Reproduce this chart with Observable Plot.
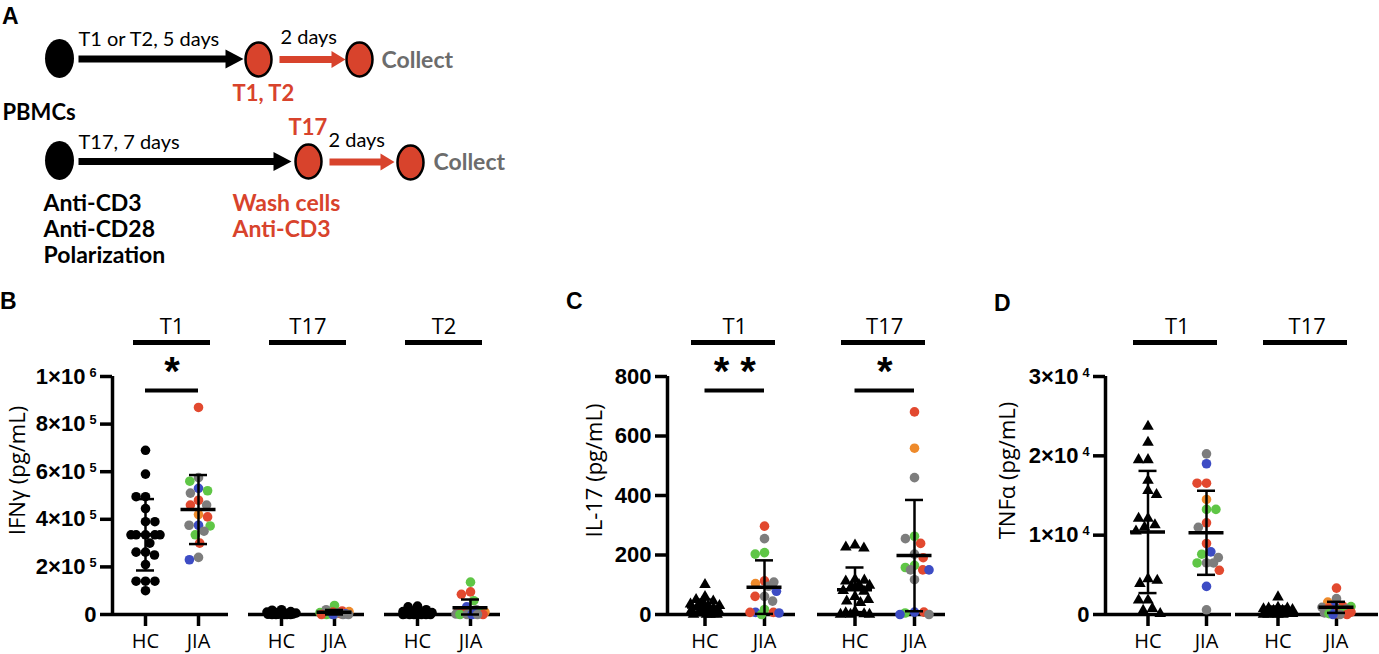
<!DOCTYPE html>
<html>
<head>
<meta charset="utf-8">
<script src="https://cdn.jsdelivr.net/npm/d3@7"></script>
<script src="https://cdn.jsdelivr.net/npm/@observablehq/plot@0.6"></script>
<style>
  body { margin: 0; background: #ffffff; }
  #fig { position: relative; width: 1379px; height: 654px; overflow: hidden; background: #ffffff; }
  .letter { position: absolute; font: bold 23px "Liberation Sans", Arial, sans-serif; line-height: 1; color: #000; }
  svg g[aria-label="y-axis tick label"] text { font-weight: 700; }
</style>
</head>
<body>
<div id="fig"></div>
<script>
// ---------------- DATA ----------------
const cohorts = ["HC", "JIA"];
const groupsIFNG = ["T1", "T17", "T2"];
const groupsIL17 = ["T1", "T17"];
const groupsTNF = ["T1", "T17"];
// JIA subgroup code per point: 1 red, 2 grey, 3 green, 4 blue, 5 orange (HC = 0, black)

// IFNγ (pg/mL)
const ifngT1HC = [690000, 590000, 495000, 495000, 445000, 390000, 390000, 335000, 335000, 335000, 335000, 335000, 300000, 262000, 262000, 250000, 210000, 140000, 140000, 140000, 100000];
const ifngT1JIA = [870000, 575000, 560000, 530000, 520000, 510000, 480000, 460000, 460000, 420000, 410000, 375000, 372000, 375000, 350000, 335000, 300000, 240000, 230000];
const ifngT1JIAsub = [1, 2, 3, 4, 3, 2, 1, 1, 2, 5, 1, 4, 3, 2, 2, 3, 1, 2, 4];
const ifngT17HC = [20000, 18000, 12000, 10000, 8000, 6000, 5000, 5000, 4000, 3000, 3000, 2000, 2000, 1000, 1000, 0, 0, 0, 0, 0];
const ifngT17JIA = [38000, 20000, 15000, 12000, 10000, 8000, 6000, 5000, 5000, 3000, 3000, 2000, 2000, 0, 0, 0, 0, 0];
const ifngT17JIAsub = [3, 2, 1, 5, 1, 3, 2, 3, 2, 4, 1, 2, 3, 2, 3, 1, 4, 2];
const ifngT2HC = [35000, 32000, 20000, 15000, 12000, 10000, 8000, 6000, 5000, 4000, 3000, 2000, 2000, 1000, 0, 0, 0, 0, 0, 0];
const ifngT2JIA = [136000, 95000, 85000, 58000, 32000, 20000, 15000, 10000, 8000, 5000, 4000, 3000, 2000, 0, 0, 0, 0, 0];
const ifngT2JIAsub = [3, 1, 1, 3, 4, 2, 1, 5, 2, 1, 3, 4, 2, 3, 2, 1, 4, 2];
const ifngMean = [[335000, 441000], [5000, 9000], [8000, 28000]];
const ifngSD = [[150000, 145000], [6000, 10000], [10000, 35000]];
const ifngSig = ["*", "", ""];
const ifngTicks = [0, 200000, 400000, 600000, 800000, 1000000];

// IL-17 (pg/mL)
const il17T1HC = [100, 60, 50, 45, 40, 35, 30, 30, 25, 20, 20, 15, 10, 10, 5, 5, 2, 0, 0, 0, 0];
const il17T1JIA = [297, 255, 208, 203, 113, 109, 104, 95, 78, 61, 61, 45, 17, 7, 7, 7, 5, 0];
const il17T1JIAsub = [1, 2, 3, 3, 1, 2, 5, 2, 4, 2, 1, 2, 3, 4, 1, 1, 4, 3];
const il17T17HC = [233, 226, 223, 118, 115, 112, 100, 98, 95, 80, 78, 60, 50, 45, 40, 10, 5, 2, 0, 0, 0];
const il17T17JIA = [681, 559, 460, 263, 255, 239, 203, 191, 165, 158, 150, 150, 150, 117, 8, 8, 5, 0, 0];
const il17T17JIAsub = [1, 5, 2, 3, 2, 1, 2, 1, 3, 3, 1, 4, 2, 2, 4, 1, 3, 2, 4];
const il17Mean = [[25, 92], [83, 198]];
const il17SD = [[25, 90], [75, 187]];
const il17Sig = ["**", "*"];
const il17Ticks = [0, 200, 400, 600, 800];

// TNFα (pg/mL)
const tnfT1HC = [23700, 21700, 19500, 19500, 16900, 15600, 15100, 12100, 12100, 11300, 11000, 10500, 4500, 4300, 3900, 1800, 1800, 750, 500, 100];
const tnfT1JIA = [20250, 19000, 16550, 16550, 14500, 13250, 13250, 11560, 10980, 8950, 7900, 7600, 7180, 6500, 6500, 6500, 5570, 3540, 590];
const tnfT1JIAsub = [2, 4, 1, 1, 5, 3, 3, 1, 2, 1, 4, 3, 2, 2, 3, 2, 1, 4, 2];
const tnfT17HC = [2200, 900, 800, 800, 700, 600, 500, 500, 400, 300, 300, 200, 200, 100, 100, 50, 0, 0, 0, 0];
const tnfT17JIA = [3330, 2000, 1560, 1100, 1000, 1000, 900, 800, 700, 600, 400, 300, 200, 200, 100, 100, 0, 0, 0];
const tnfT17JIAsub = [1, 2, 5, 1, 3, 4, 2, 1, 2, 3, 4, 1, 2, 3, 1, 3, 1, 2, 4];
const tnfMean = [[10400, 10300], [500, 900]];
const tnfSD = [[7700, 5300], [500, 700]];
const tnfSig = ["", ""];
const tnfTicks = [0, 10000, 20000, 30000];

// Panel A protocol schematic (text content)
const protocolNotes = [
  {text: "T1 or T2, 5 days", tone: "black", bold: false},
  {text: "2 days", tone: "black", bold: false},
  {text: "Collect", tone: "gray", bold: true},
  {text: "T1, T2", tone: "red", bold: true},
  {text: "PBMCs", tone: "black", bold: true},
  {text: "T17, 7 days", tone: "black", bold: false},
  {text: "T17", tone: "red", bold: true},
  {text: "2 days", tone: "black", bold: false},
  {text: "Collect", tone: "gray", bold: true},
  {text: "Anti-CD3", tone: "black", bold: true},
  {text: "Anti-CD28", tone: "black", bold: true},
  {text: "Polarization", tone: "black", bold: true},
  {text: "Wash cells", tone: "red", bold: true},
  {text: "Anti-CD3", tone: "red", bold: true}
];

// ---------------- STYLE / LAYOUT ----------------
const subgroupColors = ["#000000", "#e2492f", "#7d7d7d", "#5fc646", "#3d4cc4", "#ee8a2b"];
const toneColors = {black: "#000000", red: "#d8432c", gray: "#6c6c6c"};
const tickFont = "'Liberation Sans', Arial, sans-serif";
const textFont = "'Open Sans', sans-serif";

// schematic layout (diagram units)
const schematicLayout = {
  cells: [
    {x: 59, y: 58, fill: "black"}, {x: 258, y: 59, fill: "red"}, {x: 359, y: 59, fill: "red"},
    {x: 59, y: 160, fill: "black"}, {x: 308, y: 161, fill: "red"}, {x: 410, y: 162, fill: "red"}
  ],
  arrows: [
    {x1: 78, x2: 228, y: 58.5, tip: 243, tone: "black"},
    {x1: 279, x2: 333, y: 59, tip: 345, tone: "red"},
    {x1: 78, x2: 276, y: 161, tip: 291, tone: "black"},
    {x1: 329, x2: 382, y: 161.5, tip: 394, tone: "red"}
  ],
  notes: [
    {x: 78, y: 39, size: 20}, {x: 280, y: 37, size: 20}, {x: 381, y: 60, size: 23}, {x: 232, y: 93, size: 22},
    {x: 2, y: 112, size: 22}, {x: 78, y: 142, size: 20}, {x: 288, y: 127, size: 22}, {x: 328, y: 140, size: 20},
    {x: 433, y: 162, size: 23}, {x: 43, y: 203, size: 23}, {x: 43, y: 229, size: 23}, {x: 43, y: 255, size: 23},
    {x: 232, y: 203, size: 23}, {x: 232, y: 229, size: 23}
  ]
};

const fig = document.getElementById("fig");
function place(node, left, top) {
  node.style.position = "absolute";
  node.style.left = left + "px";
  node.style.top = top + "px";
  fig.appendChild(node);
}
function letter(t, left, top) {
  const d = document.createElement("div");
  d.className = "letter";
  d.textContent = t;
  d.style.left = left + "px";
  d.style.top = top + "px";
  fig.appendChild(d);
}

// ellipse symbol (cells are drawn slightly taller than wide)
function ellipseSymbol(aspect) {
  return {
    draw(ctx, size) {
      const rx = Math.sqrt(size / Math.PI), ry = rx * aspect, k = 0.5523;
      ctx.moveTo(rx, 0);
      ctx.bezierCurveTo(rx, ry * k, rx * k, ry, 0, ry);
      ctx.bezierCurveTo(-rx * k, ry, -rx, ry * k, -rx, 0);
      ctx.bezierCurveTo(-rx, -ry * k, -rx * k, -ry, 0, -ry);
      ctx.bezierCurveTo(rx * k, -ry, rx, -ry * k, rx, 0);
      ctx.closePath();
    }
  };
}
function headSymbol(len, w) {
  return {
    draw(ctx) {
      ctx.moveTo(0, 0);
      ctx.lineTo(-len, -w / 2);
      ctx.lineTo(-len, w / 2);
      ctx.closePath();
    }
  };
}

// ---------------- PANEL A ----------------
(function () {
  const L = schematicLayout;
  const notes = protocolNotes.map((n, i) => ({...n, ...L.notes[i]}));
  const blackCells = L.cells.filter(c => c.fill === "black");
  const redCells = L.cells.filter(c => c.fill === "red");
  const marks = [
    Plot.dot(blackCells, {x: "x", y: "y", r: 14.5, symbol: ellipseSymbol(1.34), fill: "black"}),
    Plot.dot(redCells, {x: "x", y: "y", r: 13, symbol: ellipseSymbol(1.3), fill: toneColors.red, stroke: "black", strokeWidth: 2.5}),
    Plot.link(L.arrows.filter(a => a.tone === "black"), {x1: "x1", x2: "x2", y1: "y", y2: "y", stroke: "black", strokeWidth: 7}),
    Plot.link(L.arrows.filter(a => a.tone === "red"), {x1: "x1", x2: "x2", y1: "y", y2: "y", stroke: toneColors.red, strokeWidth: 7}),
    Plot.dot(L.arrows.filter(a => a.tone === "black"), {x: "tip", y: "y", symbol: headSymbol(18, 19), fill: "black"}),
    Plot.dot(L.arrows.filter(a => a.tone === "red"), {x: "tip", y: "y", symbol: headSymbol(14, 17), fill: toneColors.red})
  ];
  notes.forEach(n => marks.push(Plot.text([n], {
    x: "x", y: "y", text: "text", textAnchor: "start", fill: toneColors[n.tone],
    fontWeight: n.bold ? "bold" : "normal", fontSize: n.size, fontFamily: "Lato, sans-serif"
  })));
  const svg = Plot.plot({
    width: 640, height: 285, margin: 0,
    x: {domain: [0, 640], axis: null},
    y: {domain: [0, 285], reverse: true, axis: null},
    style: {background: "transparent", overflow: "visible"},
    marks
  });
  place(svg, 0, 0);
})();

// ---------------- SCATTER PANELS ----------------
function swarm(values, pxPerValue, d, cap) {
  const order = d3.range(values.length).sort((a, b) => values[b] - values[a]);
  const placed = [], off = new Array(values.length);
  let flip = 1;
  for (const i of order) {
    const y = values[i] * pxPerValue;
    const near = placed.filter(p => Math.abs(p.y - y) < d);
    const cands = [0];
    for (const p of near) {
      const dx = Math.sqrt(d * d - (p.y - y) ** 2);
      cands.push(p.x + dx, p.x - dx);
    }
    const ok = cands.filter(c => Math.abs(c) <= cap + 1e-9 &&
      near.every(p => (p.x - c) ** 2 + (p.y - y) ** 2 >= d * d - 1e-6));
    let x = 0;
    if (ok.length) {
      const m = d3.min(ok, c => Math.abs(c));
      const best = ok.filter(c => Math.abs(Math.abs(c) - m) < 1e-6);
      if (best.length > 1) { flip = -flip; x = flip * m; } else x = best[0];
    } else {
      let bestScore = -Infinity;
      for (let c = -cap; c <= cap + 1e-9; c += 0.5) {
        const s = d3.min(near, p => Math.hypot(p.x - c, p.y - y)) - Math.abs(c) * 0.02;
        if (s > bestScore) { bestScore = s; x = c; }
      }
    }
    placed.push({x, y});
    off[i] = x;
  }
  return off;
}

function sciFormat(v) {
  if (v === 0) return "0";
  const e = Math.floor(Math.log10(v) + 1e-9);
  const m = Math.round(v / Math.pow(10, e));
  return `${m}×10^${e}`;
}

function scatter(cfg) {
  const L = cfg.layout;
  const n = cfg.groups.length;
  const width = L.marginLeft + n * L.facetWidth + (n - 1) * L.gap + L.marginRight;
  const height = 364, marginTop = 86, marginBottom = 40;
  const frameH = height - marginTop - marginBottom;
  const yMax = cfg.ticks[cfg.ticks.length - 1];
  const pxPerValue = frameH / yMax;
  const xlo = -L.hcOffset / L.step, xhi = xlo + L.facetWidth / L.step;
  const rows = [];
  cfg.groups.forEach((g, gi) => {
    cohorts.forEach((c, ci) => {
      const vals = cfg.values[gi][ci];
      const subs = ci === 0 ? vals.map(() => 0) : cfg.subgroups[gi];
      const off = swarm(vals, pxPerValue, 9.4, 14.5);
      vals.forEach((v, i) => rows.push({group: g, cohort: c, ci, value: v, sub: subs[i], x: ci + off[i] / L.step}));
    });
  });
  const stats = [];
  cfg.groups.forEach((g, gi) => cohorts.forEach((c, ci) =>
    stats.push({group: g, ci, mean: cfg.means[gi][ci], sd: cfg.sds[gi][ci]})));
  const heads = cfg.groups.map((g, gi) => ({group: g, sig: cfg.sig[gi]}));
  const first = [heads[0]];
  const last = [heads[heads.length - 1]];
  const jia = cohorts.length - 1, mid = jia / 2;
  const sigHeads = heads.filter(d => d.sig);
  const svg = Plot.plot({
    width, height, marginTop, marginBottom, marginLeft: L.marginLeft, marginRight: L.marginRight,
    style: {background: "transparent", overflow: "visible", fontFamily: textFont},
    fx: {domain: cfg.groups, paddingInner: L.gap / (L.facetWidth + L.gap), paddingOuter: 0, axis: null},
    x: {domain: [xlo, xhi]},
    y: {domain: [0, yMax]},
    color: {type: "ordinal", domain: d3.range(subgroupColors.length), range: subgroupColors},
    marks: [
      Plot.axisY({ticks: cfg.ticks, tickFormat: cfg.format, tickSize: 12, tickPadding: 4, strokeWidth: 3.5,
        label: null, fontSize: 22, fontWeight: "bold", fontFamily: tickFont}),
      Plot.axisX({ticks: cohorts.map((c, i) => i), tickFormat: i => cohorts[i], tickSize: 12, tickPadding: 7,
        strokeWidth: 3.5, label: null, fontSize: 20, fontFamily: textFont}),
      Plot.ruleX(first, {fx: "group", x: () => xlo, y1: () => 0, y2: () => yMax, strokeWidth: 3.5}),
      Plot.ruleY(heads.slice(0, -1), {fx: "group", y: () => 0, strokeWidth: 3.5}),
      Plot.ruleY(last, {fx: "group", y: () => 0, insetRight: -L.lastExtend, strokeWidth: 3.5}),
      Plot.dot(rows.filter(d => d.ci === 0), {fx: "group", x: "x", y: "value", fill: "sub",
        r: cfg.hcSymbol === "triangle" ? 4.3 : 4.8, symbol: cfg.hcSymbol}),
      Plot.dot(rows.filter(d => d.ci > 0), {fx: "group", x: "x", y: "value", fill: "sub", r: 4.8}),
      Plot.ruleX(stats, {fx: "group", x: "ci", y1: d => Math.max(0, d.mean - d.sd), y2: d => d.mean + d.sd, strokeWidth: 2.5}),
      Plot.ruleY(stats, {fx: "group", y: d => d.mean + d.sd, x1: "ci", x2: "ci", inset: -9, strokeWidth: 2.5}),
      Plot.ruleY(stats, {fx: "group", y: d => Math.max(0, d.mean - d.sd), x1: "ci", x2: "ci", inset: -9, strokeWidth: 2.5}),
      Plot.ruleY(stats, {fx: "group", y: "mean", x1: "ci", x2: "ci", inset: -17.5, strokeWidth: 3.5}),
      Plot.ruleY(heads, {fx: "group", y: () => yMax, x1: () => 0, x2: () => jia, dy: -34,
        insetLeft: L.headerInset[0], insetRight: L.headerInset[1], strokeWidth: 5}),
      Plot.text(heads, {fx: "group", x: () => mid, y: () => yMax, dy: -50, text: "group", fontSize: 22, fontFamily: textFont}),
      Plot.ruleY(sigHeads, {fx: "group", y: () => yMax, x1: () => 0, x2: () => jia, dy: 14, strokeWidth: 4}),
      Plot.text(sigHeads, {fx: "group", x: () => mid, y: () => yMax, dy: -4, text: d => d.sig.split("").join(" "),
        fontSize: 40, fontWeight: "bold", fontFamily: tickFont}),
      Plot.text(first, {fx: "group", text: () => cfg.label, frameAnchor: "left", textAnchor: "middle", rotate: -90,
        dx: L.labelDx, dy: -25, fontSize: 22, fontFamily: textFont})
    ]
  });
  // superscript exponents in tick labels
  const ns = "http://www.w3.org/2000/svg";
  svg.querySelectorAll("text").forEach(t => {
    const m = (t.textContent || "").match(/^(.*×10)\^(\d+)$/);
    if (!m) return;
    t.textContent = "";
    const a = document.createElementNS(ns, "tspan");
    a.textContent = m[1];
    const b = document.createElementNS(ns, "tspan");
    b.setAttribute("dx", "4");
    b.setAttribute("dy", "-0.55em");
    b.setAttribute("font-size", "0.58em");
    b.textContent = m[2];
    t.appendChild(a);
    t.appendChild(b);
  });
  place(svg, L.left, 290);
}

scatter({
  groups: groupsIFNG,
  values: [[ifngT1HC, ifngT1JIA], [ifngT17HC, ifngT17JIA], [ifngT2HC, ifngT2JIA]],
  subgroups: [ifngT1JIAsub, ifngT17JIAsub, ifngT2JIAsub],
  means: ifngMean, sds: ifngSD, sig: ifngSig, ticks: ifngTicks, format: sciFormat,
  label: "IFNγ (pg/mL)", hcSymbol: "circle",
  layout: {left: 0, marginLeft: 111, facetWidth: 116, gap: 20.5, marginRight: 10, hcOffset: 33, step: 53,
    headerInset: [-12, -12], labelDx: -95, lastExtend: 0}
});
scatter({
  groups: groupsIL17,
  values: [[il17T1HC, il17T1JIA], [il17T17HC, il17T17JIA]],
  subgroups: [il17T1JIAsub, il17T17JIAsub],
  means: il17Mean, sds: il17SD, sig: il17Sig, ticks: il17Ticks, format: d => String(d),
  label: "IL-17 (pg/mL)", hcSymbol: "triangle",
  layout: {left: 540, marginLeft: 127, facetWidth: 128, gap: 22, marginRight: 15, hcOffset: 37.5, step: 59.5,
    headerInset: [-13.5, -11], labelDx: -73, lastExtend: 0}
});
scatter({
  groups: groupsTNF,
  values: [[tnfT1HC, tnfT1JIA], [tnfT17HC, tnfT17JIA]],
  subgroups: [tnfT1JIAsub, tnfT17JIAsub],
  means: tnfMean, sds: tnfSD, sig: tnfSig, ticks: tnfTicks, format: sciFormat,
  label: "TNFα (pg/mL)", hcSymbol: "triangle",
  layout: {left: 960, marginLeft: 145, facetWidth: 126, gap: 4.5, marginRight: 17.5, hcOffset: 42.5, step: 58.5,
    headerInset: [-14.5, -11], labelDx: -97.5, lastExtend: 17}
});

letter("A", 2, 5);
letter("B", 0, 290);
letter("C", 566, 290);
letter("D", 994, 292);
</script>
</body>
</html>
